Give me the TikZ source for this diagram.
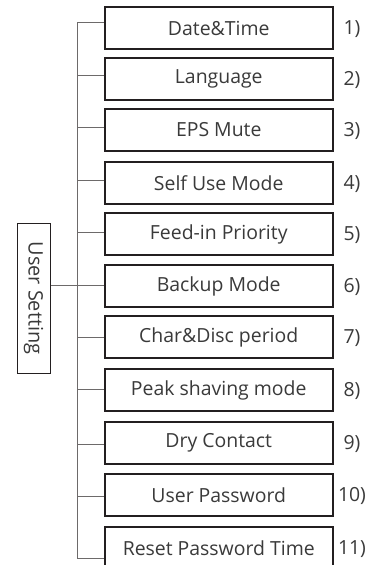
\documentclass[tikz,border=0pt]{standalone}
\usepackage{fontspec}
\setmainfont{Open Sans}
\definecolor{boxline}{HTML}{231F20}
\definecolor{conn}{HTML}{6D6A6A}
\definecolor{txt}{HTML}{3A3A3A}
\begin{document}
\begin{tikzpicture}[x=1bp,y=-1bp,
  item/.style={draw=boxline,line width=1.5bp,minimum width=228bp,minimum height=42bp,inner sep=0pt,text=txt,font=\fontsize{19.5}{23}\selectfont},
  num/.style={text=txt,font=\fontsize{19.5}{23}\selectfont,inner sep=0pt},
  link/.style={draw=conn,line width=1bp}]
\clip (0,0) rectangle (372,565);
\fill[white] (0,0) rectangle (372,565);
\node[draw=boxline,line width=1bp,minimum width=33bp,minimum height=150bp,inner sep=0pt,text=txt,font=\fontsize{20}{23}\selectfont] (us) at (33.5,298) {\rotatebox{-90}{User Setting}};
\foreach \t/\b/\lab/\n [count=\i] in {
  7/23/Date\&Time/1, 58/76/Language/2, 109/128/EPS Mute/3, 162/180/Self Use Mode/4,
  213/232/Feed-in Priority/5, 265/285/Backup Mode/6, 316/337/Char\&Disc period/7,
  369/389/Peak shaving mode/8, 422/444/Dry Contact/9, 474/496/User Password/10,
  527/558/Reset Password Time/11}{
  \node[item] (b\i) at (218.75,\t+21) {\lab};
  \node[num] (n\i) at (352,\t+22) {\n)};
  \coordinate (t\i) at (77,\b);
  \draw[link] (t\i) -- (b\i.west |- t\i);
}
\draw[link] (t1) -- (t11);
\draw[link] (us.east |- t6) -- (t6);
\end{tikzpicture}
\end{document}
